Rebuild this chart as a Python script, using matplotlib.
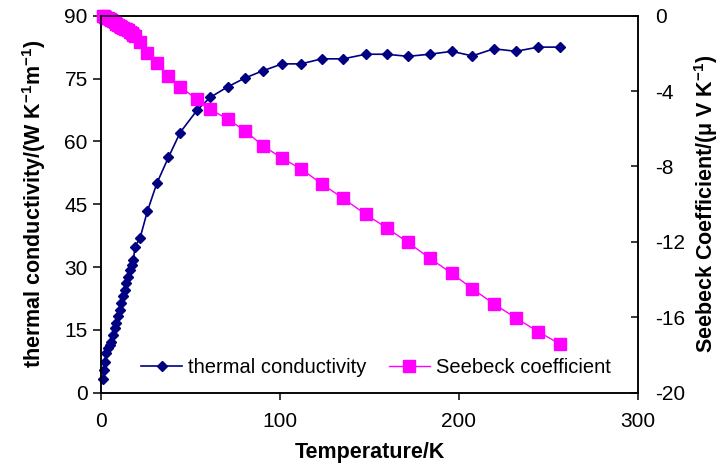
import matplotlib
matplotlib.use("Agg")
import matplotlib.pyplot as plt

plt.rcParams['font.family'] = ['Liberation Sans', 'DejaVu Sans']
plt.rcParams['axes.unicode_minus'] = False
plt.rcParams['mathtext.fontset'] = 'custom'
plt.rcParams['mathtext.rm'] = 'Liberation Sans'
plt.rcParams['mathtext.bf'] = 'Liberation Sans:bold'

# temperature (K), shared by both series
temperature = [1.1, 1.6, 2.1, 3.0, 3.9, 4.8, 5.8, 6.7, 7.7, 8.6,
               9.5, 10.5, 11.4, 12.3, 13.3, 14.2, 15.3, 16.2, 17.1, 18.1,
               19.0, 21.8, 25.9, 31.2, 37.7, 44.2, 53.6, 61.0, 70.7, 80.3,
               90.7, 101.3, 111.8, 123.3, 135.3, 147.9, 159.5, 171.4, 183.7, 196.0,
               207.4, 219.5, 231.8, 244.2, 256.5]

# thermal conductivity (W K-1 m-1)
thermal_k = [3.2, 5.4, 7.4, 9.4, 10.6, 11.4, 12.2, 13.8, 15.4, 16.6,
             18.2, 19.8, 21.4, 23.0, 24.6, 26.2, 27.7, 29.3, 30.5, 31.7,
             34.9, 36.9, 43.3, 50.0, 56.2, 62.1, 67.4, 70.5, 73.0, 75.1,
             76.9, 78.5, 78.5, 79.7, 79.7, 80.8, 80.8, 80.3, 80.8, 81.5,
             80.4, 82.1, 81.5, 82.5, 82.5]

# Seebeck coefficient (uV K-1)
seebeck = [-0.02, -0.04, -0.06, -0.10, -0.14, -0.19, -0.24, -0.30, -0.36, -0.42,
           -0.48, -0.53, -0.58, -0.63, -0.68, -0.72, -0.78, -0.86, -0.94, -1.02,
           -1.10, -1.42, -2.00, -2.53, -3.20, -3.77, -4.44, -4.97, -5.48, -6.10,
           -6.91, -7.57, -8.13, -8.92, -9.69, -10.54, -11.25, -12.02, -12.87, -13.67,
           -14.48, -15.29, -16.04, -16.76, -17.42]

x_ticks = [0, 100, 200, 300]
k_ticks = [0, 15, 30, 45, 60, 75, 90]
s_ticks = [-20, -16, -12, -8, -4, 0]

navy = '#000080'
magenta = '#FF00FF'

fig = plt.figure(figsize=(7.22, 4.68), dpi=100)
ax1 = fig.add_axes([101 / 722, 75.3 / 468, 537 / 722, 377 / 468])
ax2 = ax1.twinx()

l1, = ax1.plot(temperature, thermal_k, color=navy, lw=1.2, marker='D',
               markersize=5.5, markeredgecolor=navy, label='thermal conductivity',
               clip_on=False)
l2, = ax2.plot(temperature, seebeck, color=magenta, lw=1.0, marker='s',
               markersize=8, markeredgecolor=magenta, label='Seebeck coefficient',
               clip_on=False)

ax1.set_xlim(0, 300)
ax1.set_ylim(0, 90)
ax2.set_ylim(-20, 0)
ax1.set_xticks(x_ticks)
ax1.set_yticks(k_ticks)
ax2.set_yticks(s_ticks)

ax1.tick_params(axis='x', direction='out', length=5, width=1.1,
                labelsize=15, pad=9)
ax1.tick_params(axis='y', direction='out', length=5.5, width=1.1,
                labelsize=15, pad=4)
ax2.tick_params(axis='y', direction='in', length=5, width=1.1,
                labelsize=15, pad=12)
for ax in (ax1, ax2):
    for sp in ax.spines.values():
        sp.set_linewidth(1.1)

ax1.set_xlabel('Temperature/K', fontsize=15.5, fontweight='bold', labelpad=8)
ax1.set_ylabel(r'thermal conductivity/(W K$^{\mathbf{-1}}$m$^{\mathbf{-1}}$)',
               fontsize=15.5, fontweight='bold', labelpad=12)
ax2.set_ylabel(r'Seebeck Coefficient/(μ V K$^{\mathbf{-1}}$)',
               fontsize=15.5, fontweight='bold', labelpad=5)

ax2.legend([l1, l2], [l1.get_label(), l2.get_label()], ncol=2, frameon=False,
           fontsize=14.5, loc='center', bbox_to_anchor=(0.512, 0.066),
           handlelength=2.0, handletextpad=0.3, columnspacing=1.15)

fig.savefig('out.png', dpi=100)
